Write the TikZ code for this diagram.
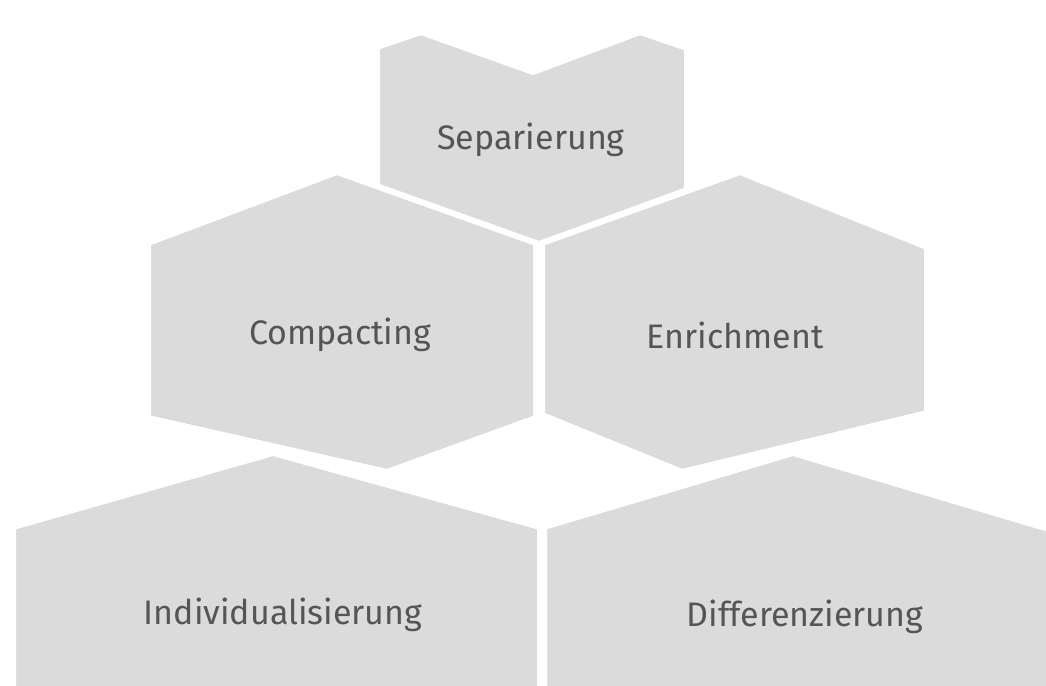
\documentclass[tikz,border=0pt]{standalone}
\usepackage{fontspec}
\setmainfont{Fira Sans}
\usepackage{tikz}
\definecolor{tilegray}{RGB}{219,219,219}
\definecolor{textgray}{RGB}{85,85,85}
\def \FontSize {17}
\tikzstyle{tile}=[
  fill=tilegray,
  draw=white,
  line width=3pt,
  line join=miter
]
\tikzstyle{tiletext}=[
  text=textgray,
  font=\fontsize{\FontSize}{21}\selectfont
]

\begin{document}
\begin{tikzpicture}[x=0.5pt,y=-0.5pt]
          \useasboundingbox (0,0) rectangle (1046,686);
          \fill[white] (0,0) rectangle (1046,686);
          \clip (0,0) rectangle (1046,686);

          % top tile
          \draw[tile] (377,47) -- (421,32) -- (533,72) -- (640,32) -- (687,48)
                      -- (687,190) -- (537,245) -- (377,190) -- cycle;

          % middle row
          \draw[tile] (148,243) -- (337,172) -- (536,243) -- (536,418)
                      -- (387,472) -- (148,418) -- cycle;
          \draw[tile] (542,243) -- (740,172) -- (927,247) -- (927,413)
                      -- (682,472) -- (542,415) -- cycle;

          % bottom row
          \draw[tile] (13,527) -- (273,453) -- (540,527) -- (540,700)
                      -- (13,700) -- cycle;
          \draw[tile] (544,527) -- (793,453) -- (1052,530) -- (1052,700)
                      -- (544,700) -- cycle;

          \node[tiletext] (sep) at (531,140) {Separierung};
          \node[tiletext] (comp) at (340,335) {Compacting};
          \node[tiletext] (enr) at (735,335) {Enrichment};
          \node[tiletext] (ind) at (283,615) {Individualisierung};
          \node[tiletext] (diff) at (805,617) {Differenzierung};
        \end{tikzpicture}
\end{document}
